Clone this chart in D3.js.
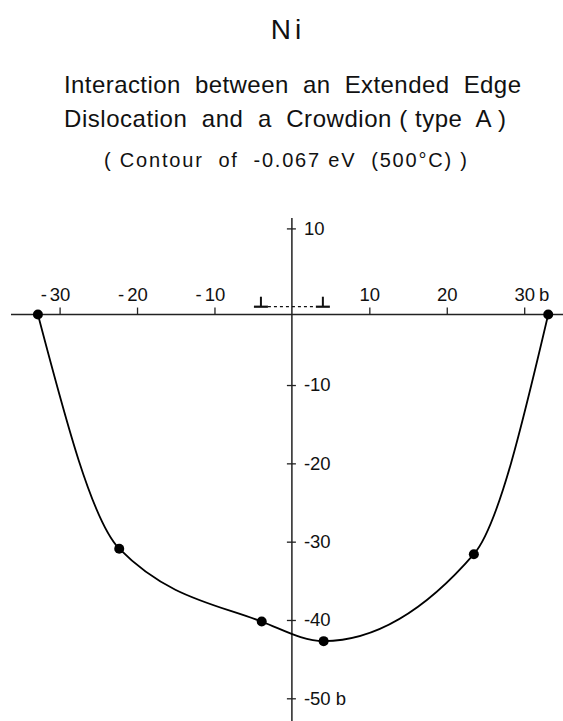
<!DOCTYPE html>
<html>
<head>
<meta charset="utf-8">
<script src="https://cdn.jsdelivr.net/npm/d3@7/dist/d3.min.js"></script>
<style>
  html, body { margin: 0; padding: 0; background: #fff; }
  svg { display: block; }
  text { font-family: "Liberation Sans", Arial, sans-serif; fill: #111; }
</style>
</head>
<body>
<div id="chart"></div>
<script>
// Contour points of the interaction energy, in units of b
const contourX = [-32.8, -22.3, -3.9, 4.1, 23.5, 33.1];
const contourY = [-1.0, -30.9, -40.2, -42.7, -31.6, -1.0];

// Partial dislocations of the extended edge dislocation
const partialX = [-4, 4];
const partialY = 0;

// Level of the horizontal axis line
const axisLevel = -1;

// Tick labels
const xTicks = [-30, -20, -10, 10, 20, 30];
const yTicks = [10, -10, -20, -30, -40, -50];

// Title lines
const titleLines = [
  "Ni",
  "Interaction  between  an  Extended  Edge",
  "Dislocation  and  a  Crowdion ( type  A )",
  "( Contour  of  -0.067 eV  (500°C) )"
];

const W = 563, H = 721;

const svg = d3.select("#chart").append("svg")
  .attr("width", W).attr("height", H)
  .attr("viewBox", `0 0 ${W} ${H}`);

svg.append("rect").attr("width", W).attr("height", H).attr("fill", "#fff");

const x = d3.scaleLinear().domain([-30, 30]).range([59.6, 524.2]);
const y = d3.scaleLinear().domain([10, -50]).range([228.4, 698.3]);

// ---- titles ----
const titleSpec = [
  { size: 28, x: 288, y: 39, len: null },
  { size: 24, x: 64, y: 93, len: 457 },
  { size: 24, x: 64, y: 127, len: 442 },
  { size: 20, x: 104, y: 167, len: 363 }
];
titleLines.forEach((t, i) => {
  const s = titleSpec[i];
  const el = svg.append("text")
    .attr("x", s.x).attr("y", s.y)
    .attr("font-size", s.size)
    .style("white-space", "pre")
    .text(t);
  if (s.len) {
    el.attr("textLength", s.len).attr("lengthAdjust", "spacing");
  } else {
    el.attr("text-anchor", "middle").attr("letter-spacing", 4);
  }
});

// ---- axes lines ----
const x0 = x(0);
const yAxisLevel = y(axisLevel);

svg.append("line")
  .attr("x1", 11).attr("x2", W)
  .attr("y1", yAxisLevel).attr("y2", yAxisLevel)
  .attr("stroke", "#222").attr("stroke-width", 1.5);

svg.append("line")
  .attr("x1", x0).attr("x2", x0)
  .attr("y1", 218).attr("y2", H)
  .attr("stroke", "#222").attr("stroke-width", 1.5);

const labelSize = 18.5;

// ---- x axis ticks (pointing up), labels above ----
const xAxis = d3.axisTop(x)
  .tickValues(xTicks)
  .tickSize(7)
  .tickPadding(7)
  .tickFormat(d => Math.abs(d));

const gx = svg.append("g")
  .attr("transform", `translate(0,${yAxisLevel})`)
  .call(xAxis);
gx.select(".domain").remove();
gx.selectAll(".tick line").attr("stroke", "#222").attr("stroke-width", 1.3);
gx.selectAll(".tick text")
  .attr("font-size", labelSize)
  .attr("font-family", "Liberation Sans, Arial, sans-serif")
  .attr("fill", "#111");

// minus signs hang to the left of the digits; "b" unit after the last label
gx.selectAll(".tick").each(function(d) {
  const g = d3.select(this);
  const txt = g.select("text");
  const w = txt.node().getComputedTextLength();
  const ty = txt.attr("y");
  if (d < 0) {
    g.append("text")
      .attr("x", -w / 2 - 3).attr("y", ty)
      .attr("text-anchor", "end")
      .attr("font-size", labelSize).attr("fill", "#111")
      .text("-");
  }
  if (d === xTicks[xTicks.length - 1]) {
    g.append("text")
      .attr("x", w / 2 + 4).attr("y", ty)
      .attr("text-anchor", "start")
      .attr("font-size", labelSize).attr("fill", "#111")
      .text("b");
  }
});

// ---- y axis ticks (crossing the axis), labels on the right ----
const yAxis = d3.axisRight(y)
  .tickValues(yTicks)
  .tickSize(4)
  .tickPadding(8)
  .tickFormat((d, i) => (d < 0 ? "-" + Math.abs(d) : String(d)) + (i === yTicks.length - 1 ? " b" : ""));

const gy = svg.append("g")
  .attr("transform", `translate(${x0},0)`)
  .call(yAxis);
gy.select(".domain").remove();
gy.selectAll(".tick line")
  .attr("x1", -5).attr("x2", 4)
  .attr("stroke", "#222").attr("stroke-width", 1.3);
gy.selectAll(".tick text")
  .attr("font-size", labelSize)
  .attr("font-family", "Liberation Sans, Arial, sans-serif")
  .attr("fill", "#111")
  .style("white-space", "pre");

// ---- partial dislocations (⊥) joined by a dashed stacking fault ----
const halfBase = 7, stem = 10;
const yp = y(partialY);
svg.append("line")
  .attr("x1", x(partialX[0]) + halfBase).attr("x2", x(partialX[1]) - halfBase)
  .attr("y1", yp).attr("y2", yp)
  .attr("stroke", "#111").attr("stroke-width", 1.2)
  .attr("stroke-dasharray", "3,3");

const disl = svg.append("g").selectAll("g")
  .data(partialX).join("g")
  .attr("transform", d => `translate(${x(d)},${yp})`);
disl.append("line")
  .attr("x1", -halfBase).attr("x2", halfBase).attr("y1", 0).attr("y2", 0)
  .attr("stroke", "#111").attr("stroke-width", 2.2);
disl.append("line")
  .attr("x1", 0).attr("x2", 0).attr("y1", 0).attr("y2", -stem)
  .attr("stroke", "#111").attr("stroke-width", 2);

// ---- contour curve and points ----
const pts = contourX.map((v, i) => [v, contourY[i]]);

const line = d3.line()
  .x(d => x(d[0]))
  .y(d => y(d[1]))
  .curve(d3.curveMonotoneX);

svg.append("path")
  .datum(pts)
  .attr("d", line)
  .attr("fill", "none")
  .attr("stroke", "#000")
  .attr("stroke-width", 1.8);

svg.append("g").selectAll("circle")
  .data(pts).join("circle")
  .attr("cx", d => x(d[0]))
  .attr("cy", d => y(d[1]))
  .attr("r", 5)
  .attr("fill", "#000");
</script>
</body>
</html>
